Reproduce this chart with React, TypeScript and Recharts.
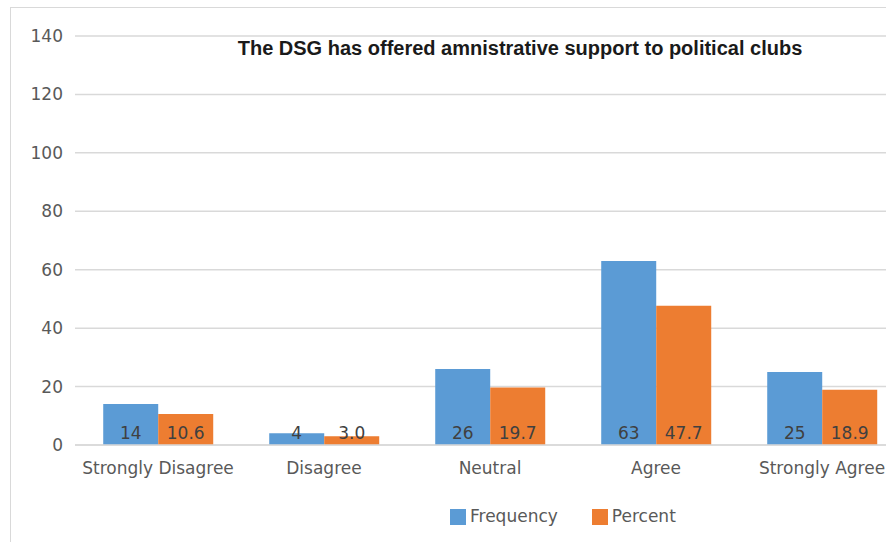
import { BarChart, Bar, XAxis, YAxis, CartesianGrid, Legend, LabelList } from 'recharts'

const categories = ['Strongly Disagree', 'Disagree', 'Neutral', 'Agree', 'Strongly Agree']
const frequency = [14, 4, 26, 63, 25]
const percent = [10.6, 3.0, 19.7, 47.7, 18.9]
const yTicks = [0, 20, 40, 60, 80, 100, 120, 140]

const data = categories.map((name, i) => ({
  name,
  Frequency: frequency[i],
  Percent: percent[i],
}))

const FONT = '"DejaVu Sans", sans-serif'
const tickStyle = { fill: '#595959', fontSize: 17, fontFamily: FONT }
const labelStyle = { fill: '#404040', fontSize: 17, fontFamily: FONT }

export default function App() {
  return (
    <div
      style={{
        position: 'fixed',
        left: 0,
        top: 0,
        width: 886,
        height: 542,
        overflow: 'hidden',
        background: '#fff',
      }}
    >
      {/* chart frame, runs past the right and bottom edges */}
      <div
        style={{
          position: 'absolute',
          left: 10,
          top: 7,
          width: 1000,
          height: 1000,
          border: '1px solid #d9d9d9',
        }}
      />
      <div
        style={{
          position: 'absolute',
          left: 0,
          top: 37,
          width: 1040,
          textAlign: 'center',
          fontFamily: '"Liberation Sans", Arial, sans-serif',
          fontWeight: 700,
          fontSize: 20,
          color: '#1a1a1a',
        }}
      >
        The DSG has offered amnistrative support to political clubs
      </div>
      <BarChart
        width={910}
        height={542}
        data={data}
        margin={{ top: 36, right: 5, left: 10, bottom: 47 }}
        barCategoryGap="17%"
        barGap={0}
        style={{ position: 'absolute', left: 0, top: 0 }}
      >
        <CartesianGrid vertical={false} stroke="#d9d9d9" strokeWidth={1.5} />
        <XAxis
          dataKey="name"
          axisLine={{ stroke: '#d9d9d9', strokeWidth: 1.5 }}
          tickLine={false}
          tick={tickStyle}
          tickMargin={11}
          interval={0}
        />
        <YAxis
          domain={[0, 140]}
          ticks={yTicks}
          axisLine={false}
          tickLine={false}
          tick={tickStyle}
          tickMargin={6}
          width={65}
        />
        <Legend
          iconType="square"
          iconSize={16}
          wrapperStyle={{ left: 450, bottom: 16, width: 'auto', fontFamily: FONT, fontSize: 17 }}
          formatter={(v) => <span style={{ color: '#595959', marginRight: 24 }}>{v}</span>}
        />
        <Bar dataKey="Frequency" fill="#5B9BD5" isAnimationActive={false}>
          <LabelList dataKey="Frequency" position="insideBottom" offset={6} style={labelStyle} />
        </Bar>
        <Bar dataKey="Percent" fill="#ED7D31" isAnimationActive={false}>
          <LabelList
            dataKey="Percent"
            position="insideBottom"
            offset={6}
            formatter={(v: unknown) => Number(v).toFixed(1)}
            style={labelStyle}
          />
        </Bar>
      </BarChart>
    </div>
  )
}
